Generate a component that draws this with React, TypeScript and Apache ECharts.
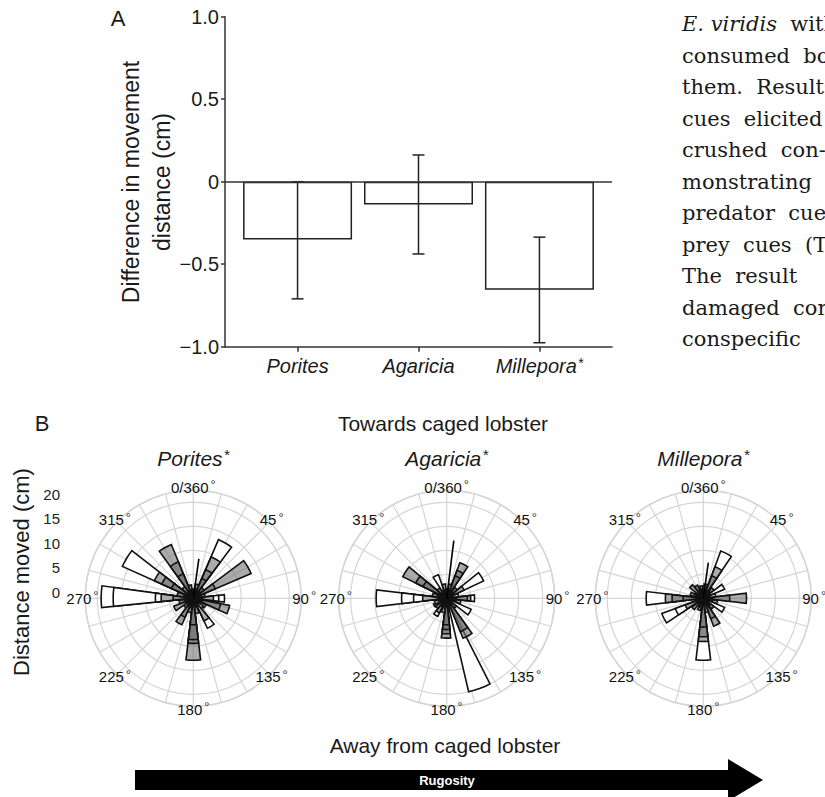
import React, { useEffect, useRef } from 'react';
import * as echarts from 'echarts';

// ---------- Panel A data ----------
const barCategories = ['Porites', 'Agaricia', 'Millepora'];
const barSignificant = [false, false, true];
const barMeans = [-0.35, -0.138, -0.655];
const barErrLow = [-0.71, -0.438, -0.976];
const barErrHigh = [0.0, 0.162, -0.336];
const barYTicks = [-1, -0.5, 0, 0.5, 1];
const barYTickLabels = ['\u22121.0', '\u22120.5', '0', '0.5', '1.0'];

// ---------- Panel B data ----------
const roseTitles = ['Porites', 'Agaricia', 'Millepora'];
const angleTickValues = [0, 45, 90, 135, 180, 225, 270, 315];
const angleTickLabels = ['0/360', '45', '90', '135', '180', '225', '270', '315'];
const distanceTicks = [0, 5, 10, 15, 20];

// [distance moved (cm), bearing (deg), treatment]
const poritesWedges: [number, number, string][] = [
  [19.2, 271, 'T1'], [16.7, 271, 'T1'], [7.9, 271, 'T1'], [6.7, 271, 'T2'], [4.2, 271, 'T2'],
  [16.2, 301, 'T1'], [8.9, 301, 'T2'], [7.2, 301, 'T2'], [5.0, 301, 'T2'],
  [12.1, 331, 'T2'], [8.2, 331, 'T2'], [5.5, 331, 'T2'],
  [13.3, 30, 'T1'], [9.4, 30, 'T2'], [6.5, 30, 'T2'], [4.5, 30, 'T2'],
  [13.1, 60, 'T2'], [5.0, 60, 'T2'],
  [6.5, 90, 'T1'], [5.3, 90, 'T1'], [4.2, 90, 'T2'],
  [7.7, 108, 'T2'], [5.8, 108, 'T2'],
  [6.9, 148, 'T1'], [5.2, 148, 'T2'],
  [12.9, 180, 'T2'], [9.4, 180, 'T2'], [8.6, 180, 'T2'], [5.5, 180, 'T2'],
  [6.0, 210, 'T2'], [4.3, 210, 'T2'],
  [4.4, 241, 'T2'],
  [3.0, 15, 'T2'], [2.8, 45, 'T2'], [2.5, 75, 'T2'], [3.0, 125, 'T2'], [2.6, 135, 'T1'],
  [3.2, 165, 'T2'], [3.0, 195, 'T2'], [2.5, 225, 'T2'], [3.0, 255, 'T2'], [3.4, 285, 'T2'],
  [3.0, 316, 'T2'], [2.8, 345, 'T2'],
  [2.0, 5, 'T2'], [1.8, 40, 'T2'], [2.0, 100, 'T2'], [1.8, 160, 'T2'], [2.0, 200, 'T2'],
  [1.8, 250, 'T2'], [2.0, 290, 'T2'], [1.8, 340, 'T2'],
];

const agariciaWedges: [number, number, string][] = [
  [14.7, 270, 'T1'], [9.4, 270, 'T1'], [6.9, 270, 'T1'], [5.0, 270, 'T2'],
  [10.2, 303, 'T2'], [7.2, 303, 'T2'], [5.5, 303, 'T2'],
  [5.2, 334, 'T1'],
  [7.9, 27, 'T2'], [6.2, 27, 'T2'], [5.0, 27, 'T2'],
  [8.5, 58, 'T1'], [4.0, 58, 'T2'],
  [5.8, 90, 'T1'], [5.0, 90, 'T2'], [4.3, 90, 'T2'],
  [5.6, 121, 'T1'],
  [20.0, 160, 'T1'],
  [9.0, 151, 'T2'], [7.5, 151, 'T2'],
  [8.3, 181, 'T2'], [7.4, 181, 'T2'], [6.5, 181, 'T2'], [5.5, 181, 'T2'],
  [4.2, 213, 'T1'], [3.4, 213, 'T2'],
  [3.0, 240, 'T2'], [2.6, 250, 'T1'],
  [3.0, 15, 'T2'], [2.8, 45, 'T2'], [2.5, 75, 'T1'], [3.0, 105, 'T2'], [2.6, 135, 'T2'],
  [3.0, 195, 'T2'], [2.8, 228, 'T2'], [3.0, 285, 'T2'], [2.6, 318, 'T2'], [3.0, 348, 'T2'],
  [2.0, 5, 'T2'], [1.8, 40, 'T2'], [2.0, 100, 'T2'], [1.8, 170, 'T2'], [2.0, 205, 'T2'],
  [1.8, 260, 'T2'], [2.0, 295, 'T2'], [1.8, 335, 'T2'],
];

const milleporaWedges: [number, number, string][] = [
  [10.5, 27, 'T1'], [7.0, 27, 'T2'], [5.0, 27, 'T2'],
  [4.8, 60, 'T1'],
  [9.0, 90, 'T2'], [5.5, 90, 'T2'],
  [4.8, 120, 'T1'],
  [6.2, 153, 'T2'], [4.5, 153, 'T2'],
  [12.9, 180, 'T1'], [9.0, 180, 'T2'], [8.0, 180, 'T2'], [6.0, 180, 'T2'],
  [9.2, 243, 'T1'], [6.2, 243, 'T1'], [4.0, 243, 'T2'],
  [11.9, 270, 'T1'], [7.9, 270, 'T2'], [6.5, 270, 'T2'], [4.2, 270, 'T2'],
  [3.6, 315, 'T2'], [3.0, 330, 'T2'],
  [3.0, 10, 'T2'], [2.8, 45, 'T2'], [2.6, 75, 'T1'], [3.0, 105, 'T2'], [2.8, 135, 'T2'],
  [3.0, 165, 'T2'], [2.6, 200, 'T2'], [3.0, 225, 'T2'], [2.8, 290, 'T2'], [2.6, 350, 'T2'],
  [2.0, 0, 'T2'], [1.8, 40, 'T2'], [2.0, 95, 'T2'], [1.8, 140, 'T2'], [2.0, 210, 'T2'],
  [1.8, 255, 'T2'], [2.0, 300, 'T2'], [1.8, 340, 'T2'],
];

// mean vectors [length (cm), bearing (deg)]
const meanVectors: [number, number][] = [[8.3, 8], [12.1, 7], [7.5, 8]];

const paragraphLines = [
  'E. viridis|  with',
  'consumed  both',
  'them.  Results',
  'cues  elicited',
  'crushed  con-',
  'monstrating',
  'predator  cues',
  'prey  cues  (Ta',
  'The  result',
  'damaged  con',
  'conspecific',
];

// ---------- layout / style constants ----------
const SANS = 'Liberation Sans, Arial, sans-serif';
const SERIF = 'DejaVu Serif, serif';
const GRID_COLOR = '#d5d5d5';
const GREY_FILL = 'rgba(115,115,115,0.6)';
const WEDGE_HALF = 6.8;
const POLAR_CENTERS: [number, number][] = [[193.3, 598.3], [446.7, 598.3], [703.3, 598.3]];
const POLAR_RADIUS = 108;
const RADIUS_MAX = 22.5;
const ANGLE_LABEL_RADIUS = 23.1;

const allWedges = [poritesWedges, agariciaWedges, milleporaWedges];

export default function App() {
  const ref = useRef<HTMLDivElement>(null);

  useEffect(() => {
    document.body.style.margin = '0';
    if (!ref.current) return;
    const chart = echarts.init(ref.current, null, { renderer: 'svg' });

    const degRich = {
      n: { fontSize: 15, fontFamily: SANS, fill: '#111', color: '#111' },
      d: { fontSize: 13, fontFamily: SANS, fill: '#333', color: '#333', padding: [0, 0, 5, 2] },
    };

    const polarSeries: any[] = [];
    allWedges.forEach((wedges, i) => {
      const data = wedges
        .slice()
        .sort((a, b) => b[0] - a[0])
        .map(([d, b, t]) => [d, b, t === 'T2' ? 1 : 0]);
      polarSeries.push({
        type: 'custom',
        coordinateSystem: 'polar',
        polarIndex: i,
        silent: true,
        data,
        z: 5,
        renderItem: (params: any, api: any) => {
          const r = api.value(0);
          const a = api.value(1);
          const t = api.value(2);
          const pts: number[][] = [api.coord([0, a])];
          const steps = 4;
          for (let k = 0; k <= steps; k++) {
            pts.push(api.coord([r, a - WEDGE_HALF + (2 * WEDGE_HALF * k) / steps]));
          }
          return {
            type: 'polygon',
            shape: { points: pts },
            style: { fill: t === 1 ? GREY_FILL : '#ffffff', stroke: '#111', lineWidth: 1.6 },
          };
        },
      });
      polarSeries.push({
        type: 'custom',
        coordinateSystem: 'polar',
        polarIndex: i,
        silent: true,
        z: 6,
        data: [meanVectors[i]],
        renderItem: (params: any, api: any) => {
          const r = api.value(0);
          const a = api.value(1);
          const p0 = api.coord([0, a]);
          const p1 = api.coord([r, a]);
          return {
            type: 'line',
            shape: { x1: p0[0], y1: p0[1], x2: p1[0], y2: p1[1] },
            style: { stroke: '#000', lineWidth: 1.6 },
          };
        },
      });
      // angle labels, centred on a ring just outside the plot
      polarSeries.push({
        type: 'custom',
        coordinateSystem: 'polar',
        polarIndex: i,
        silent: true,
        z: 7,
        data: angleTickValues.map((a) => [ANGLE_LABEL_RADIUS, a]),
        renderItem: (params: any, api: any) => {
          const p = api.coord([api.value(0), api.value(1)]);
          const label = angleTickLabels[params.dataIndex];
          return {
            type: 'text',
            x: p[0],
            y: p[1],
            style: {
              text: `{n|${label}}{d|°}`,
              rich: degRich,
              fill: '#111',
              align: 'center',
              verticalAlign: 'middle',
              textAlign: 'center',
              textVerticalAlign: 'middle',
            },
          };
        },
      });
    });

    const textEl = (x: number, y: number, text: string, opts: any = {}) => ({
      type: 'text',
      x,
      y,
      rotation: opts.rotation || 0,
      silent: true,
      style: {
        text,
        fill: opts.fill || '#1a1a1a',
        fontSize: opts.fontSize || 20,
        fontFamily: opts.fontFamily || SANS,
        fontStyle: opts.fontStyle || 'normal',
        fontWeight: opts.fontWeight || 'normal',
        textAlign: opts.align || 'center',
        align: opts.align || 'center',
        textVerticalAlign: 'middle',
        verticalAlign: 'middle',
        rich: opts.rich,
      },
    });

    const titleRich = {
      t: { fontSize: 21, fontStyle: 'italic', fontFamily: SANS, color: '#1a1a1a' },
      s: { fontSize: 15, fontStyle: 'italic', fontFamily: SANS, color: '#1a1a1a', padding: [0, 0, 7, 1] },
    };

    const paraRich = {
      i: { fontSize: 21, fontStyle: 'italic', fontFamily: SERIF, color: '#2a2a2a' },
      n: { fontSize: 21, fontFamily: SERIF, color: '#2a2a2a' },
    };

    const graphics: any[] = [
      textEl(118, 18, 'A', { fontSize: 22 }),
      textEl(42, 423, 'B', { fontSize: 22 }),
      textEl(131, 182, 'Difference in movement', { fontSize: 23, rotation: Math.PI / 2 }),
      textEl(162, 182, 'distance (cm)', { fontSize: 23, rotation: Math.PI / 2 }),
      textEl(443, 423, 'Towards caged lobster', { fontSize: 21 }),
      textEl(445, 745, 'Away from caged lobster', { fontSize: 21 }),
      textEl(21, 572, 'Distance moved (cm)', { fontSize: 22, rotation: Math.PI / 2 }),
      {
        type: 'polygon',
        silent: true,
        shape: {
          points: [[135, 770], [728, 770], [728, 759], [763, 780], [728, 801], [728, 790], [135, 790]],
        },
        style: { fill: '#000' },
      },
      textEl(447, 780, 'Rugosity', { fontSize: 13, fontWeight: 'bold', fill: '#ffffff' }),
    ];
    roseTitles.forEach((t, i) => {
      graphics.push(textEl(POLAR_CENTERS[i][0], 458, `{t|${t}}{s|*}`, { rich: titleRich }));
    });
    paragraphLines.forEach((line, i) => {
      let txt: string;
      if (line.includes('|')) {
        const [it, rest] = line.split('|');
        txt = `{i|${it}}{n|${rest}}`;
      } else {
        txt = `{n|${line}}`;
      }
      graphics.push(textEl(682, 24 + i * 31.5, txt, { align: 'left', rich: paraRich }));
    });

    const option: any = {
      animation: false,
      textStyle: { fontFamily: SANS },
      grid: [
        { left: 225, top: 16.7, width: 387, height: 330, containLabel: false },
        { left: 64, top: 494, width: 1, height: 98, containLabel: false },
      ],
      xAxis: [
        {
          gridIndex: 0,
          type: 'value',
          min: 0.4,
          max: 3.6,
          axisLine: { show: true, onZero: false, lineStyle: { color: '#333', width: 1.5 } },
          axisTick: { show: true, customValues: [1, 2, 3], length: 5, lineStyle: { color: '#333', width: 1.5 } },
          axisLabel: {
            show: true,
            customValues: [1, 2, 3],
            margin: 9,
            formatter: (v: number) => {
              const i = Math.round(v) - 1;
              if (i < 0 || i > 2) return '';
              return barSignificant[i] ? `{i|${barCategories[i]}}{s|*}` : `{i|${barCategories[i]}}`;
            },
            rich: {
              i: { fontSize: 20, fontStyle: 'italic', fontFamily: SANS, color: '#1a1a1a' },
              s: { fontSize: 14, fontStyle: 'italic', fontFamily: SANS, color: '#1a1a1a', padding: [0, 0, 7, 1] },
            },
          },
          splitLine: { show: false },
        },
        { gridIndex: 1, type: 'value', show: false, min: 0, max: 1 },
      ],
      yAxis: [
        {
          gridIndex: 0,
          type: 'value',
          min: -1,
          max: 1,
          interval: 0.5,
          axisLine: { show: true, onZero: false, lineStyle: { color: '#333', width: 1.5 } },
          axisTick: { show: true, length: 4, lineStyle: { color: '#333', width: 1.5 } },
          axisLabel: {
            fontSize: 20,
            color: '#1a1a1a',
            margin: 6,
            formatter: (v: number) => {
              const idx = barYTicks.findIndex((t) => Math.abs(t - v) < 1e-6);
              return idx >= 0 ? barYTickLabels[idx] : '';
            },
          },
          splitLine: { show: false },
        },
        {
          gridIndex: 1,
          type: 'value',
          min: distanceTicks[0],
          max: distanceTicks[distanceTicks.length - 1],
          interval: 5,
          axisLine: { show: false },
          axisTick: { show: false },
          splitLine: { show: false },
          axisLabel: { fontSize: 15, color: '#222', margin: 4 },
        },
      ],
      polar: POLAR_CENTERS.map((c) => ({ center: c, radius: POLAR_RADIUS })),
      angleAxis: POLAR_CENTERS.map((_, i) => ({
        polarIndex: i,
        type: 'value',
        min: 0,
        max: 360,
        interval: 15,
        startAngle: 90,
        clockwise: true,
        axisLine: { show: true, lineStyle: { color: GRID_COLOR, width: 1.5 } },
        axisTick: { show: false },
        splitLine: { show: true, lineStyle: { color: GRID_COLOR, width: 1.2 } },
        axisLabel: { show: false },
      })),
      radiusAxis: POLAR_CENTERS.map((_, i) => ({
        polarIndex: i,
        type: 'value',
        min: 0,
        max: RADIUS_MAX,
        interval: 5,
        axisLine: { show: false },
        axisTick: { show: false },
        axisLabel: { show: false },
        splitLine: { show: true, lineStyle: { color: GRID_COLOR, width: 1.2 } },
      })),
      series: [
        {
          type: 'bar',
          xAxisIndex: 0,
          yAxisIndex: 0,
          barWidth: 109,
          silent: true,
          z: 2,
          data: barMeans.map((v, i) => [i + 1, v]),
          itemStyle: { color: '#ffffff', borderColor: '#222', borderWidth: 1.5 },
          markLine: {
            silent: true,
            symbol: ['none', 'none'],
            label: { show: false },
            lineStyle: { color: '#333', width: 1.5, type: 'solid' },
            data: [{ yAxis: 0 }],
          },
        },
        {
          type: 'custom',
          xAxisIndex: 0,
          yAxisIndex: 0,
          silent: true,
          z: 4,
          encode: { x: 0, y: [1, 2] },
          data: barMeans.map((_, i) => [i + 1, barErrLow[i], barErrHigh[i]]),
          renderItem: (params: any, api: any) => {
            const x = api.value(0);
            const lo = api.value(1);
            const hi = api.value(2);
            const p1 = api.coord([x, hi]);
            const p2 = api.coord([x, lo]);
            const cap = 6;
            const st = { stroke: '#222', lineWidth: 1.5 };
            return {
              type: 'group',
              children: [
                { type: 'line', shape: { x1: p1[0], y1: p1[1], x2: p2[0], y2: p2[1] }, style: st },
                { type: 'line', shape: { x1: p1[0] - cap, y1: p1[1], x2: p1[0] + cap, y2: p1[1] }, style: st },
                { type: 'line', shape: { x1: p2[0] - cap, y1: p2[1], x2: p2[0] + cap, y2: p2[1] }, style: st },
              ],
            };
          },
        },
        { type: 'scatter', xAxisIndex: 1, yAxisIndex: 1, data: [], silent: true },
        ...polarSeries,
      ],
      graphic: graphics,
    };

    chart.setOption(option);
    return () => chart.dispose();
  }, []);

  return <div ref={ref} style={{ width: 825, height: 797 }} />;
}
